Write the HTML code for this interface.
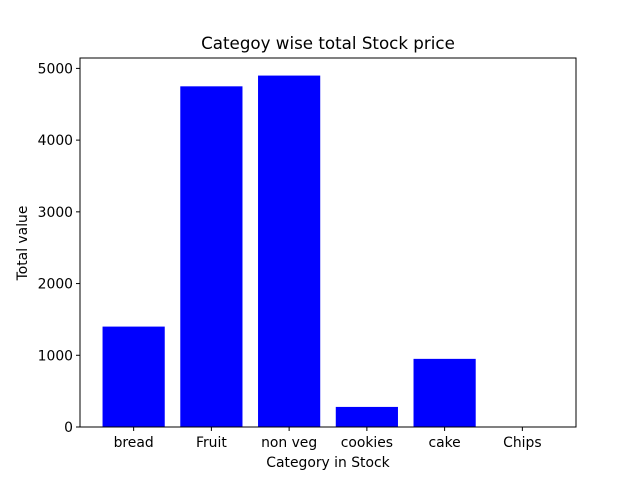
<!DOCTYPE html>
<html><head><meta charset="utf-8"><style>
body{margin:0;background:#fff;font-family:"DejaVu Sans","Liberation Sans",sans-serif}
svg text{font-family:"DejaVu Sans","Liberation Sans",sans-serif}
</style></head><body>
<svg id="chart" width="640" height="480" xmlns="http://www.w3.org/2000/svg">
<rect width="640" height="480" fill="#fff"/>
<text x="328" y="49" text-anchor="middle" font-size="16.7">Categoy wise total Stock price</text>
<text x="328" y="467" text-anchor="middle" font-size="13.9">Category in Stock</text>
<text transform="translate(27,243) rotate(-90)" text-anchor="middle" font-size="13.9">Total value</text>
<g id="bars"></g><g id="xt"></g><g id="yt"></g>
<rect x="80" y="58" width="496" height="369" fill="none" stroke="#000" stroke-width="1"/>
</svg>
<script>
const categories=["bread","Fruit","non veg","cookies","cake","Chips"];
const values=[1400,4750,4900,280,950,0];
const yTicks=[0,1000,2000,3000,4000,5000];
const L=80,R=576,T=58,B=427;
const ymax=Math.max(...values)*1.05;
const y=v=>B-(v/ymax)*(B-T);
const x0=-0.4-0.05*(categories.length-0.2), x1=categories.length-1+0.4+0.05*(categories.length-0.2);
const x=i=>L+(i-x0)/(x1-x0)*(R-L);
const ns="http://www.w3.org/2000/svg";
const bars=document.getElementById('bars'),xt=document.getElementById('xt'),yt=document.getElementById('yt');
const bw=0.8*(R-L)/(x1-x0);
categories.forEach((c,i)=>{
 const r=document.createElementNS(ns,'rect');
 r.setAttribute('x',x(i)-bw/2);r.setAttribute('y',y(values[i]));
 r.setAttribute('width',bw);r.setAttribute('height',B-y(values[i]));r.setAttribute('fill','#0000ff');
 
 
 bars.appendChild(r);
 const l=document.createElementNS(ns,'line');
 l.setAttribute('x1',x(i));l.setAttribute('x2',x(i));l.setAttribute('y1',B);l.setAttribute('y2',B+4);l.setAttribute('stroke','#000');
 
 
 xt.appendChild(l);
 const t=document.createElementNS(ns,'text');
 t.setAttribute('x',x(i));t.setAttribute('y',B+20);t.setAttribute('text-anchor','middle');t.setAttribute('font-size','13.9');
 t.textContent=c;
 
 
 xt.appendChild(t);
});
yTicks.forEach(v=>{
 const l=document.createElementNS(ns,'line');
 l.setAttribute('x1',L-4);l.setAttribute('x2',L);l.setAttribute('y1',y(v));l.setAttribute('y2',y(v));l.setAttribute('stroke','#000');
 
 
 yt.appendChild(l);
 const t=document.createElementNS(ns,'text');
 t.setAttribute('x',L-7);t.setAttribute('y',y(v)+5);t.setAttribute('text-anchor','end');t.setAttribute('font-size','13.9');
 t.textContent=v;
 
 
 yt.appendChild(t);
});
</script>
</body></html>
